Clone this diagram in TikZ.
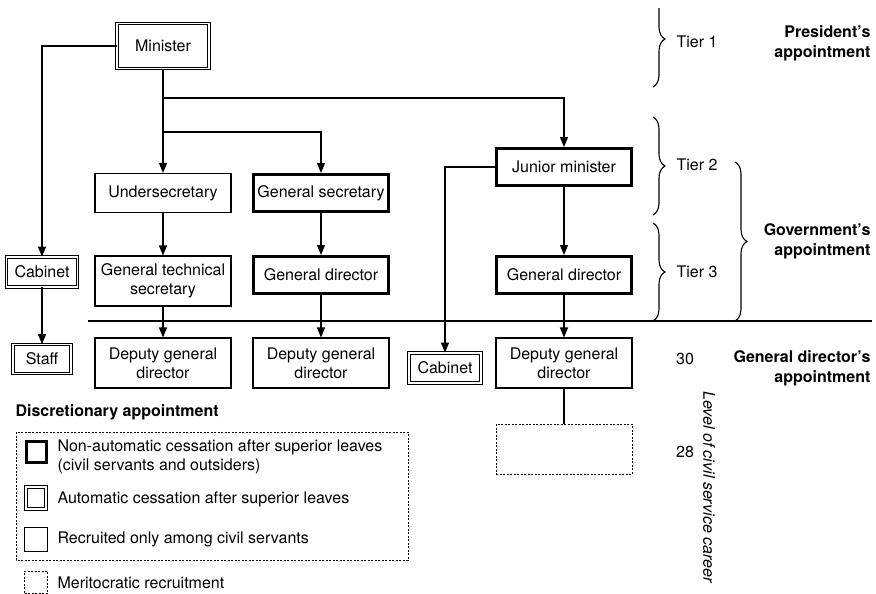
\documentclass[tikz,border=0pt]{standalone}
\usepackage{fontspec}
\setmainfont{TeX Gyre Heros}
\usetikzlibrary{arrows.meta,decorations.pathreplacing}
\begin{document}
\begin{tikzpicture}[x=1pt, y=-1pt, line width=1.1pt,
    every node/.style={font=\fontsize{16}{19}\selectfont, align=center, inner sep=2pt},
    box/.style={draw, minimum width=136pt, minimum height=39pt},
    strong/.style={draw, line width=3pt, minimum width=135pt, minimum height=37pt},
    dbl/.style={draw, double, double distance=1.5pt, line width=.8pt},
    dots/.style={draw, line width=.8pt, dash pattern=on 2pt off 1.5pt},
    arr/.style={-{Triangle[length=10pt,width=8pt]}},
    tier/.style={decorate, decoration={brace, amplitude=12pt}},
    appt/.style={font=\fontsize{16}{20}\selectfont\bfseries, align=right, anchor=east}]
          \useasboundingbox (0,0) rectangle (876,594);
          \node [dbl, minimum width=92pt, minimum height=45pt] (min) at (163,46) {Minister};
          \node [box] (under) at (163,193) {Undersecretary};
          \node [strong] (gensec) at (321,193) {General secretary};
          \node [strong] (junior) at (564,167) {Junior minister};
          \node [dbl, minimum width=71pt, minimum height=30pt] (cabA) at (42,272) {Cabinet};
          \node [box, minimum height=50pt] (techsec) at (163,281) {General technical\\secretary};
          \node [strong] (gdirA) at (321,275) {General director};
          \node [strong] (gdirB) at (564,275) {General director};
          \node [dbl, minimum width=58pt, minimum height=29pt] (staff) at (42,359) {Staff};
          \node [box, minimum height=50pt] (depA) at (163,363) {Deputy general\\director};
          \node [box, minimum height=50pt] (depB) at (321,363) {Deputy general\\director};
          \node [dbl, minimum width=72pt, minimum height=30pt] (cabB) at (445,368) {Cabinet};
          \node [box, minimum height=50pt] (depC) at (564,363) {Deputy general\\director};
          \node [dots, minimum width=136pt, minimum height=50pt] (vacant) at (564,449) {};
          \coordinate (splitA) at (163,98);
          \coordinate (splitB) at (163,132);
          \coordinate (lineL) at (88,321);
          \coordinate (lineR) at (872,321);
          \draw [arr] (min) -| (cabA);
          \draw [arr] (cabA) -- (staff);
          \draw [arr] (min) -- (under);
          \draw [arr] (splitB) -| (gensec);
          \draw [arr] (splitA) -| (junior);
          \draw [arr] (under) -- (techsec);
          \draw [arr] (techsec) -- (depA);
          \draw [arr] (gensec) -- (gdirA);
          \draw [arr] (gdirA) -- (depB);
          \draw [arr] (junior) -- (gdirB);
          \draw [arr] (gdirB) -- (depC);
          \draw [arr] (junior.west) -| (cabB);
          \draw (depC) -- (vacant);
          \draw (lineL) -- (lineR);
          \begin{scope}
            \clip (630,9) rectangle (700,100);
            \draw [tier] (653,-9) -- (653,87);
          \end{scope}
          \draw [tier] (653,117) -- (653,215);
          \draw [tier] (653,223) -- (653,321);
          \draw [tier] (735,162) -- (735,321);
          \node [anchor=west] (tierA) at (674,42) {Tier 1};
          \node [anchor=west] (tierB) at (674,165) {Tier 2};
          \node [anchor=west] (tierC) at (674,272) {Tier 3};
          \node [appt] (pres) at (873,43) {President's\\appointment};
          \node [appt] (gov) at (873,241) {Government's\\appointment};
          \node [appt] (gdir) at (873,368) {General director's\\appointment};
          \node (lvlA) at (685,359) {30};
          \node (lvlB) at (685,452) {28};
          \node [rotate=-90, font=\fontsize{16}{19}\selectfont\itshape] (career) at (709,487) {Level of civil service career};
          \node [anchor=west, font=\fontsize{16}{19}\selectfont\bfseries] (legend) at (13,412) {Discretionary appointment};
          \draw [dots] (16,432) rectangle (408,560);
          \node [draw, line width=3pt, minimum width=20pt, minimum height=21pt] (keyA) at (36,452) {};
          \node [dbl, minimum width=20pt, minimum height=22pt] (keyB) at (36,498) {};
          \node [draw, line width=.8pt, minimum width=23pt, minimum height=24pt] (keyC) at (36,539) {};
          \node [dots, minimum width=23pt, minimum height=22pt] (keyD) at (36,582) {};
          \node [anchor=west, align=left] (textA) at (55,457) {Non-automatic cessation after superior leaves\\(civil servants and outsiders)};
          \node [anchor=west] (textB) at (55,499) {Automatic cessation after superior leaves};
          \node [anchor=west] (textC) at (55,539) {Recruited only among civil servants};
          \node [anchor=west] (textD) at (55,583) {Meritocratic recruitment};
        \end{tikzpicture}
\end{document}
